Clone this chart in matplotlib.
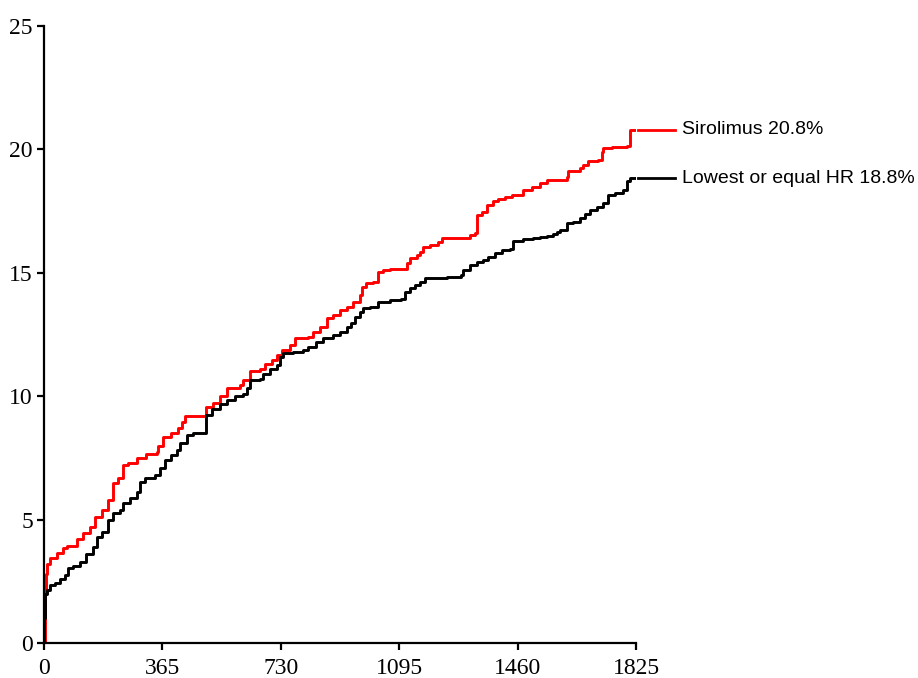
import matplotlib
matplotlib.use("Agg")
import matplotlib.pyplot as plt

# cumulative incidence (%), step corners (day, value)
sir_days = [0, 2, 5, 8, 18, 39, 59, 70, 101, 121, 141, 157, 178, 198, 213, 228, 244, 258,
            286, 316, 347, 352, 368, 393, 414, 427, 435, 501, 522, 542, 563, 604, 614, 635,
            666, 681, 702, 717, 733, 758, 774, 814, 830, 851, 871, 891, 912, 933, 953, 974,
            979, 994, 1015, 1030, 1045, 1066, 1118, 1128, 1149, 1159, 1169, 1190, 1215, 1226,
            1313, 1329, 1334, 1349, 1365, 1385, 1401, 1421, 1442, 1478, 1503, 1529, 1550,
            1591, 1611, 1616, 1652, 1663, 1678, 1709, 1719, 1724, 1750, 1796, 1806, 1822]
sir_vals = [0, 2.0, 2.8, 3.2, 3.45, 3.64, 3.85, 3.93, 4.2, 4.45, 4.7, 5.1, 5.4, 5.8, 6.5, 6.7,
            7.2, 7.3, 7.5, 7.66, 7.75, 8.0, 8.36, 8.5, 8.7, 8.97, 9.2, 9.57, 9.72, 10.0, 10.33,
            10.45, 10.66, 11.03, 11.1, 11.3, 11.47, 11.67, 11.87, 12.07, 12.35, 12.4, 12.6,
            12.8, 13.15, 13.3, 13.5, 13.6, 13.8, 14.1, 14.44, 14.57, 14.64, 15.05, 15.1, 15.15,
            15.38, 15.6, 15.72, 15.85, 16.06, 16.13, 16.26, 16.4, 16.53, 16.6, 17.34, 17.48,
            17.75, 17.89, 17.98, 18.09, 18.15, 18.36, 18.49, 18.63, 18.74, 18.76, 18.9, 19.14,
            19.23, 19.37, 19.54, 19.57, 19.9, 20.04, 20.08, 20.14, 20.8, 20.8]

hr_days = [0, 1, 2, 4, 8, 18, 34, 49, 65, 75, 90, 111, 131, 152, 162, 178, 198, 213, 234, 245,
           265, 286, 296, 311, 342, 357, 373, 393, 409, 419, 440, 460, 501, 517, 542, 563, 589,
           614, 625, 635, 666, 676, 697, 717, 727, 738, 768, 799, 814, 840, 861, 891, 912, 933,
           948, 959, 974, 984, 1005, 1030, 1066, 1102, 1113, 1128, 1144, 1159, 1174, 1241,
           1287, 1293, 1313, 1334, 1354, 1370, 1390, 1411, 1436, 1447, 1478, 1508, 1529, 1550,
           1570, 1580, 1591, 1611, 1632, 1652, 1668, 1683, 1704, 1724, 1739, 1760, 1786, 1796,
           1806, 1822]
hr_vals = [0, 1.0, 1.6, 2.0, 2.15, 2.35, 2.44, 2.6, 2.75, 3.03, 3.12, 3.3, 3.6, 3.9, 4.3, 4.5,
           5.0, 5.27, 5.39, 5.66, 5.87, 6.13, 6.54, 6.68, 6.8, 7.1, 7.4, 7.6, 7.8, 8.1, 8.43,
           8.52, 9.24, 9.5, 9.7, 9.85, 10.0, 10.1, 10.33, 10.65, 10.7, 10.9, 11.1, 11.27, 11.6,
           11.74, 11.8, 11.87, 12.0, 12.2, 12.35, 12.47, 12.6, 12.8, 12.95, 13.2, 13.42, 13.56,
           13.63, 13.83, 13.9, 13.93, 14.23, 14.37, 14.5, 14.64, 14.78, 14.82, 14.9, 15.1,
           15.3, 15.45, 15.52, 15.65, 15.8, 15.92, 15.95, 16.27, 16.36, 16.4, 16.46, 16.5,
           16.56, 16.67, 16.73, 17.0, 17.07, 17.2, 17.38, 17.54, 17.68, 17.82, 18.15, 18.25,
           18.36, 18.7, 18.83, 18.83]

labels = ["Sirolimus 20.8%", "Lowest or equal HR 18.8%"]
xticks = [0, 365, 730, 1095, 1460, 1825]
yticks = [0, 5, 10, 15, 20, 25]

fig = plt.figure(figsize=(9.18, 6.78), dpi=100)
ax = fig.add_axes([0.0479, 0.0516, 0.6449, 0.9101])

ax.step(sir_days, sir_vals, where="post", color="#ff0000", lw=2.1)
ax.step(hr_days, hr_vals, where="post", color="black", lw=2.1)

# end labels with short line, like the original
for vals, col, lab in [(sir_vals, "#ff0000", labels[0]), (hr_vals, "black", labels[1])]:
    ax.plot([1831, 1945], [vals[-1], vals[-1]], color=col, lw=2.0, clip_on=False)
    ax.text(1968, vals[-1], lab, fontsize=14, family="Liberation Sans",
            va="center", ha="left", clip_on=False)

ax.set_xlim(0, 1825)
ax.set_ylim(0, 25)
ax.set_xticks(xticks)
ax.set_yticks(yticks)

for s in ["top", "right"]:
    ax.spines[s].set_visible(False)
for s in ["left", "bottom"]:
    ax.spines[s].set_linewidth(1.6)

ax.tick_params(length=5, width=1.6, labelsize=17, pad=3)
ax.tick_params(axis="x", pad=6)
for t in ax.get_xticklabels() + ax.get_yticklabels():
    t.set_family("Liberation Serif")

fig.savefig("out.png", dpi=100)
